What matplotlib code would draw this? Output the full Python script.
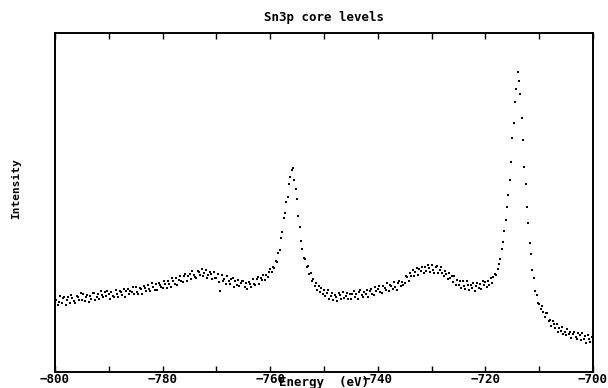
import numpy as np
import matplotlib
matplotlib.use("Agg")
import matplotlib.pyplot as plt
from matplotlib.ticker import MultipleLocator

# ------------------------
# Data (0.25 eV steps from -800 to -700 eV)
# ------------------------
energy = np.arange(-800, -699.9, 0.25)

intensity = [
    # -800 .. -795.25
    21.7, 21.1, 19.8, 20.7, 22.3, 20.3, 21.7, 22.2, 19.9, 21.1, 22.0, 20.5, 22.7, 21.7, 21.0, 20.5, 22.5, 22.1, 21.3, 23.3,
    # -795 .. -790.25
    21.3, 22.9, 20.9, 22.2, 22.7, 20.7, 22.3, 21.5, 23.4, 23.2, 21.3, 22.2, 22.9, 21.4, 23.9, 22.7, 22.0, 23.5, 22.5, 23.9,
    # -790 .. -785.25
    23.1, 21.5, 23.7, 22.4, 22.0, 24.3, 23.1, 22.0, 23.9, 23.6, 22.8, 24.6, 22.2, 24.0, 24.6, 23.0, 24.0, 23.6, 25.1, 23.1,
    # -785 .. -780.25
    25.1, 23.5, 23.1, 24.8, 24.5, 23.1, 25.3, 24.9, 23.9, 25.8, 24.6, 23.8, 26.2, 25.0, 24.3, 25.9, 24.1, 26.4, 25.7, 25.1,
    # -780 .. -775.25
    24.8, 26.7, 26.1, 24.7, 26.7, 26.0, 25.2, 27.6, 26.8, 26.0, 27.6, 25.6, 27.2, 28.3, 26.8, 26.6, 28.2, 29.0, 26.8, 28.2,
    # -775 .. -770.25
    28.8, 27.3, 29.7, 28.7, 28.0, 27.6, 29.8, 29.4, 28.6, 30.4, 28.2, 29.2, 30.0, 27.6, 28.6, 29.5, 29.0, 27.4, 29.4, 27.6,
    # -770 .. -765.25
    27.8, 28.8, 26.6, 24.0, 28.6, 26.8, 27.5, 26.1, 28.3, 26.7, 25.9, 27.4, 27.8, 25.2, 26.8, 25.8, 27.2, 25.3, 26.2, 26.9,
    # -765 .. -760.25
    26.9, 25.1, 26.2, 24.6, 26.6, 26.0, 25.0, 27.4, 26.1, 25.7, 27.4, 28.1, 26.0, 27.6, 27.0, 28.5, 27.1, 28.5, 28.1, 29.4,
    # -760 .. -755.25  (Sn 3p1/2 peak)
    30.3, 29.5, 31.1, 30.7, 32.6, 32.5, 35.0, 36.0, 39.6, 41.4, 45.5, 47.0, 50.1, 51.6, 55.4, 57.5, 59.6, 60.3, 56.5, 54.0,
    # -755 .. -750.25
    50.9, 46.0, 42.8, 38.5, 36.4, 33.6, 33.3, 31.0, 31.2, 28.8, 29.1, 26.9, 27.5, 25.4, 26.3, 24.3, 25.5, 23.5, 24.8, 23.0,
    # -750 .. -745.25
    24.3, 22.5, 23.4, 24.2, 21.5, 22.3, 23.4, 21.3, 22.8, 22.1, 21.0, 23.2, 22.6, 21.5, 23.6, 21.8, 22.5, 23.2, 21.5, 22.9,
    # -745 .. -740.25
    21.5, 23.1, 23.8, 22.1, 23.0, 21.6, 23.7, 24.2, 22.6, 22.1, 23.7, 23.1, 24.3, 22.1, 23.8, 24.5, 23.0, 22.8, 25.2, 23.8,
    # -740 .. -735.25
    24.6, 25.5, 23.6, 23.4, 25.5, 24.8, 24.3, 26.2, 23.8, 25.7, 25.4, 24.4, 26.5, 25.2, 24.3, 26.4, 26.8, 25.4, 26.6, 25.6,
    # -735 .. -730.25
    26.2, 28.3, 28.0, 26.9, 29.2, 28.3, 30.2, 28.3, 29.5, 30.7, 28.5, 30.4, 29.8, 31.0, 29.2, 30.9, 29.9, 31.7, 30.7, 29.5,
    # -730 .. -725.25
    31.7, 30.0, 29.3, 30.9, 31.2, 29.2, 30.1, 31.0, 29.1, 28.2, 29.8, 28.9, 27.3, 29.3, 27.8, 28.3, 26.6, 28.3, 25.8, 27.0,
    # -725 .. -720.25
    25.8, 26.9, 24.7, 26.9, 25.4, 24.6, 26.7, 25.6, 24.2, 25.8, 24.8, 26.2, 24.0, 25.5, 26.3, 24.7, 25.9, 24.5, 26.8, 25.6,
    # -720 .. -715.25  (Sn 3p3/2 peak)
    26.5, 25.0, 26.9, 25.6, 27.6, 26.4, 28.0, 28.9, 28.6, 30.4, 31.8, 33.4, 36.2, 38.3, 41.7, 44.9, 48.6, 52.3, 56.7, 61.8,
    # -715 .. -710.25
    68.9, 73.5, 79.6, 83.4, 88.6, 85.8, 82.1, 75.0, 68.5, 60.4, 55.5, 48.6, 43.9, 38.0, 34.9, 30.0, 27.8, 24.0, 22.7, 20.3,
    # -710 .. -705.25
    20.2, 18.5, 19.4, 17.7, 16.3, 17.3, 17.3, 14.9, 15.4, 13.5, 15.1, 14.2, 12.9, 14.2, 11.8, 13.1, 12.1, 13.4, 11.1, 11.9,
    # -705 .. -700.25
    10.8, 12.6, 11.1, 11.9, 9.9, 11.2, 11.9, 10.2, 9.6, 11.4, 10.8, 9.4, 11.5, 9.8, 10.6, 8.7, 10.8, 9.7, 8.9, 10.2,
    # -700
    9.3,
]

xticks = [-800, -780, -760, -740, -720, -700]

# ------------------------
# Plot
# ------------------------
plt.rcParams['font.family'] = 'DejaVu Sans Mono'
plt.rcParams['font.weight'] = 'bold'

fig = plt.figure(figsize=(6.08, 3.88), dpi=100)
ax = fig.add_axes([55 / 608, 1 - 372 / 388, 538 / 608, 339 / 388])

ax.scatter(energy, intensity, s=1.6, c='black', marker='s', linewidths=0)

ax.set_xlim(-800, -700)
ax.set_ylim(0, 100)
ax.set_xticks(xticks)
ax.xaxis.set_minor_locator(MultipleLocator(10))
ax.set_yticks([])

ax.tick_params(axis='x', which='both', direction='in', top=True, bottom=True,
               length=4, width=1, pad=1, labelsize=9)
for lbl in ax.get_xticklabels():
    lbl.set_fontweight('bold')
for s in ax.spines.values():
    s.set_linewidth(1.4)

ax.set_title('Sn3p core levels', fontsize=9, fontweight='bold', pad=9)
ax.set_xlabel('Energy  (eV)', fontsize=9, fontweight='bold')
ax.xaxis.set_label_coords(0.5, -0.012)
ax.set_ylabel('Intensity', fontsize=8, fontweight='bold', va='center')
ax.yaxis.set_label_coords(-0.072, 0.54)

fig.savefig('out.png', dpi=100)
